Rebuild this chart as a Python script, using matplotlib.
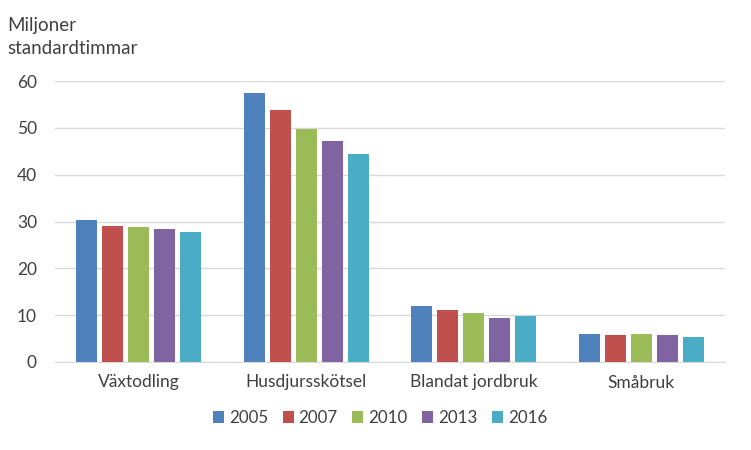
import matplotlib
matplotlib.use("Agg")
import matplotlib.pyplot as plt
import numpy as np

categories = ["Växtodling", "Husdjursskötsel", "Blandat jordbruk", "Småbruk"]
years = ["2005", "2007", "2010", "2013", "2016"]
v2005 = [30.4, 57.5, 11.9, 6.0]
v2007 = [29.1, 53.8, 11.0, 5.8]
v2010 = [28.9, 49.8, 10.4, 6.0]
v2013 = [28.4, 47.2, 9.3, 5.8]
v2016 = [27.8, 44.4, 9.8, 5.4]
series = [v2005, v2007, v2010, v2013, v2016]
colors = ["#4F81BD", "#C0504D", "#9BBB59", "#8064A2", "#4BACC6"]

plt.rcParams['font.family'] = ['Lato', 'DejaVu Sans']
fig = plt.figure(figsize=(7.51, 4.5), dpi=100)
ax = fig.add_axes([55/751, 88/450, 670/751, 281/450])

x = np.arange(len(categories))
step = 0.155
width = 0.125
for i, (vals, c, yr) in enumerate(zip(series, colors, years)):
    ax.bar(x + (i - 2) * step, vals, width, color=c, label=yr, zorder=3)

ax.set_xlim(-0.5, 3.5)
ax.set_ylim(0, 60)
ax.set_yticks(range(0, 61, 10))
ax.set_xticks(x)
ax.set_xticklabels(categories)
ax.yaxis.grid(True, color="#D9D9D9", linewidth=1, zorder=0)
for s in ["top", "right", "left"]:
    ax.spines[s].set_visible(False)
ax.spines["bottom"].set_color("#D9D9D9")
ax.tick_params(axis="both", length=0, labelsize=12.5, colors="#404040", labelcolor="#404040")
ax.tick_params(axis="y", pad=13)
ax.tick_params(axis="x", pad=9)

fig.text(7/751, 1 - 37/450, "Miljoner\nstandardtimmar", fontsize=13.5, color="#404040",
         va="center", ha="left", linespacing=1.45)

leg = fig.legend(loc="center", bbox_to_anchor=(380/751, 1 - 418/450), ncol=5, frameon=False,
                 fontsize=12.2, handlelength=0.65, handleheight=0.65, handletextpad=0.3,
                 columnspacing=0.85, labelcolor="#404040")

fig.savefig("out.png", dpi=100)
